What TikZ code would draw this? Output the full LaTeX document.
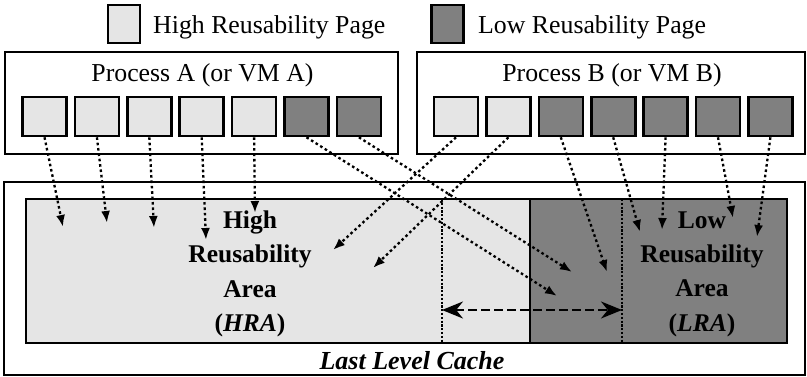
\documentclass[tikz,border=0pt]{standalone}
\usepackage{fontspec}
\setmainfont{Liberation Serif}
\usetikzlibrary{arrows.meta}
\definecolor{lightpg}{gray}{0.9}
\definecolor{darkpg}{gray}{0.5}
\begin{document}
\begin{tikzpicture}[x=1pt,y=-1pt,
  pg/.style={draw=black, line width=2.6pt, minimum width=44pt, minimum height=39pt, inner sep=0pt},
  lp/.style={pg, fill=lightpg},
  dp/.style={pg, fill=darkpg},
  box/.style={draw=black, line width=2.2pt, inner sep=0pt},
  darr/.style={line width=2.3pt, dash pattern=on 2.6pt off 2.8pt, -{Latex[length=12pt,width=9pt]}},
  vdot/.style={line width=2.2pt, dash pattern=on 2.2pt off 1.6pt},
  dbl/.style={line width=2.2pt, dash pattern=on 9pt off 4pt, {Stealth[length=21pt,width=17pt]}-{Stealth[length=21pt,width=17pt]}},
  lbl/.style={font=\fontsize{25.8}{30}\selectfont, inner sep=0pt},
  area/.style={font=\fontsize{25.5}{34.3}\selectfont\bfseries, align=center, inner sep=0pt}]
\useasboundingbox (0,0) rectangle (807,377);

% legend
\node[lp, minimum width=32pt, minimum height=38pt] (leghi) at (124,24) {};
\node[lbl, anchor=west] (leghit) at (153,27) {High Reusability Page};
\node[dp, minimum width=32pt, minimum height=38pt] (leglo) at (447.5,24) {};
\node[lbl, anchor=west] (leglot) at (478,27) {Low Reusability Page};

% process boxes
\node[box, minimum width=393pt, minimum height=102pt] (pa) at (201.5,103) {};
\node[box, minimum width=388pt, minimum height=102pt] (pb) at (611,103) {};
\node[lbl] (pat) at (202.5,75) {Process A (or VM A)};
\node[lbl] (pbt) at (612,75) {Process B (or VM B)};

% pages
\foreach \i/\s in {1/lp,2/lp,3/lp,4/lp,5/lp,6/dp,7/dp}{
  \node[\s] (a\i) at ({44.5+52.4*(\i-1)},116.5) {};
}
\foreach \i/\s in {1/lp,2/lp,3/dp,4/dp,5/dp,6/dp,7/dp}{
  \node[\s] (b\i) at ({456+52.4*(\i-1)},116.5) {};
}

% last level cache
\node[box, minimum width=801pt, minimum height=193pt] (llc) at (404.5,278.5) {};
\node[box, fill=lightpg, minimum width=504pt, minimum height=144pt] (hra) at (278,271) {};
\node[box, fill=darkpg, minimum width=257pt, minimum height=144pt] (lra) at (658.5,271) {};
\node[font=\fontsize{26}{30}\selectfont\bfseries\itshape, inner sep=0pt] (llct) at (412,361) {Last Level Cache};

% dotted boundaries and range arrow
\coordinate (v1t) at (442,199); \coordinate (v1b) at (442,343);
\coordinate (v2t) at (622,199); \coordinate (v2b) at (622,343);
\draw[vdot] (v1t) -- (v1b);
\draw[vdot] (v2t) -- (v2b);
\coordinate (r1) at (442,310); \coordinate (r2) at (622,310);
\draw[dbl] (r1) -- (r2);

% area labels
\node[area] (hrat) at (250,274) {High\\Reusability\\Area\\(\textit{HRA})};
\node[area] (lrat) at (702,274) {Low\\Reusability\\Area\\(\textit{LRA})};

% mapping arrows
\coordinate (ea1) at (63,227);
\coordinate (ea2) at (107,223);
\coordinate (ea3) at (154,228);
\coordinate (ea4) at (206,240);
\coordinate (ea5) at (255,213);
\coordinate (ea6) at (557,296);
\coordinate (ea7) at (572,272);
\coordinate (eb1) at (333,250);
\coordinate (eb2) at (373,268);
\coordinate (eb3) at (607,272);
\coordinate (eb4) at (640,232);
\coordinate (eb5) at (662,230);
\coordinate (eb6) at (733,218);
\coordinate (eb7) at (757,237);
\foreach \i in {1,...,7}{
  \draw[darr] (a\i.south) -- (ea\i);
  \draw[darr] (b\i.south) -- (eb\i);
}
\end{tikzpicture}
\end{document}
